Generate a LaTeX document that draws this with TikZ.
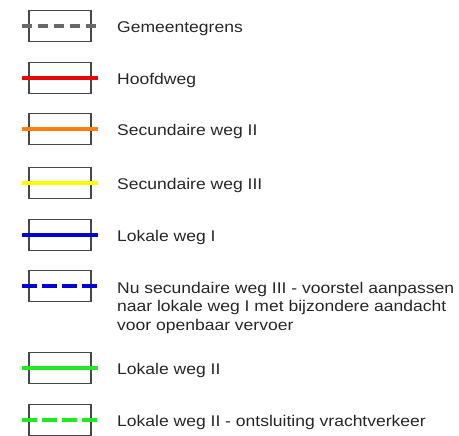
\documentclass[tikz,border=0pt]{standalone}
\usepackage{fontspec}
\setmainfont{Liberation Sans}[FakeStretch=1.13]
\definecolor{cgrid}{RGB}{70,70,70}
\definecolor{cgray}{RGB}{105,105,105}
\definecolor{cred}{RGB}{232,8,8}
\definecolor{corange}{RGB}{255,128,16}
\definecolor{cyellow}{RGB}{255,250,0}
\definecolor{cblue}{RGB}{0,0,215}
\definecolor{cgreen}{RGB}{30,235,30}
\begin{document}
\begin{tikzpicture}[x=1pt,y=-1pt,
  legbox/.style={draw=cgrid,line width=1.4pt,minimum width=62pt,minimum height=31pt,inner sep=0pt,fill=white},
  roadline/.style={line width=4.5pt},
  legtext/.style={anchor=base west,inner sep=0pt,font=\fontsize{15.5}{18.5}\selectfont,text=black!85},
  dashroad/.style={roadline,dash pattern=on 15pt off 5pt}]
\useasboundingbox (0,0) rectangle (459,436);
% row positions
\foreach \n/\yy in {1/26,2/78,3/129,4/183,5/235,6/286,7/368,8/420}{
  \node[legbox] (b\n) at (60,\yy) {};
  \coordinate (l\n) at (22,\yy);
  \coordinate (r\n) at (98,\yy);
}
\draw[line width=3.5pt,cgray,dash pattern=on 10pt off 6pt] (l1) -- (r1);
\draw[roadline,cred] (l2) -- (r2);
\draw[roadline,corange] (l3) -- (r3);
\draw[roadline,cyellow] (l4) -- (r4);
\draw[roadline,cblue] (l5) -- (r5);
\draw[dashroad,cblue] (l6) -- (r6);
\draw[roadline,cgreen] (l7) -- (r7);
\draw[dashroad,cgreen] (l8) -- (r8);
\node[legtext] (t1) at (117,32.5) {Gemeentegrens};
\node[legtext] (t2) at (117,84.5) {Hoofdweg};
\node[legtext] (t3) at (117,135.5) {Secundaire weg II};
\node[legtext] (t4) at (117,189.5) {Secundaire weg III};
\node[legtext] (t5) at (117,241.5) {Lokale weg I};
\node[legtext,align=left] (t6) at (117,330.3) {Nu secundaire weg III - voorstel aanpassen\\naar lokale weg I met bijzondere aandacht\\voor openbaar vervoer};
\node[legtext] (t7) at (117,374.5) {Lokale weg II};
\node[legtext] (t8) at (117,426) {Lokale weg II - ontsluiting vrachtverkeer};
\end{tikzpicture}
\end{document}
